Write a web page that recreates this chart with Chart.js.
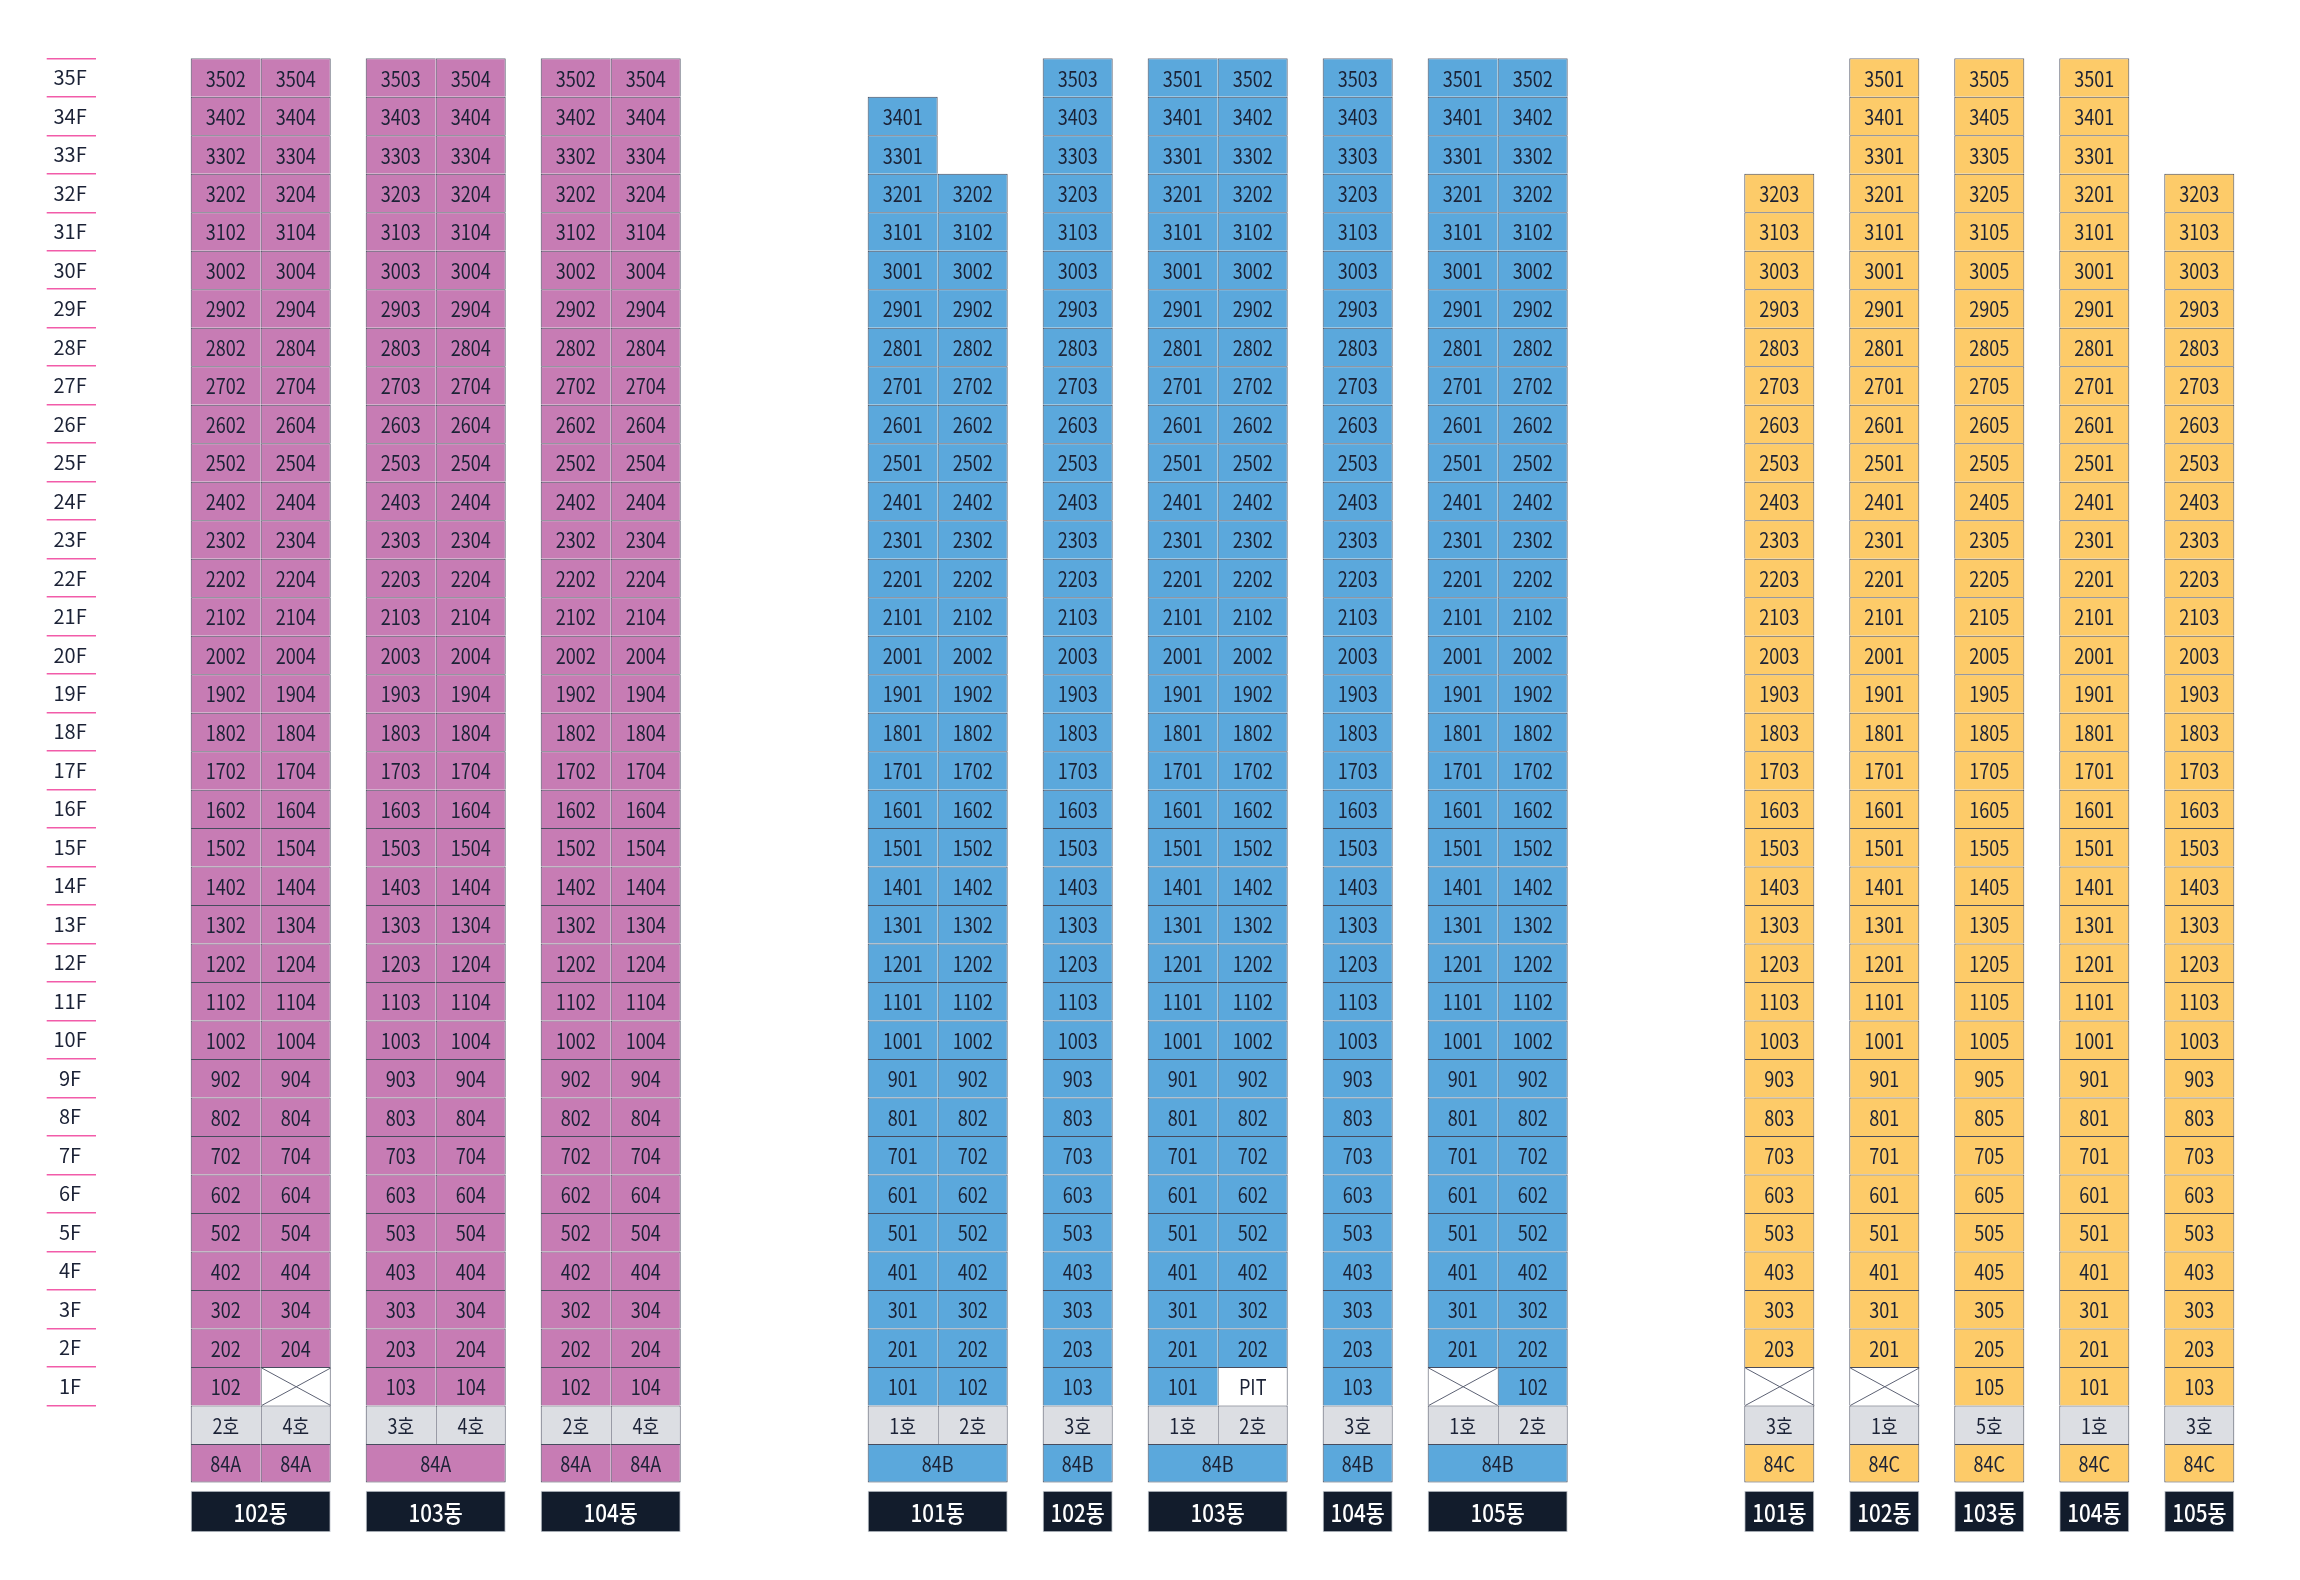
<!DOCTYPE html>
<html lang="ko">
<head>
<meta charset="utf-8">
<title>동호수 배치도</title>
<script src="https://cdn.jsdelivr.net/npm/chart.js@4"></script>
<style>
  html, body { margin: 0; padding: 0; background: #fff; }
  #wrap { width: 2300px; height: 1580px; }
</style>
</head>
<body>
<div id="wrap"><canvas id="chart"></canvas></div>
<script>
// floors, top to bottom
const floorLabels = ['35F', '34F', '33F', '32F', '31F', '30F', '29F', '28F', '27F', '26F',
  '25F', '24F', '23F', '22F', '21F', '20F', '19F', '18F', '17F', '16F', '15F', '14F',
  '13F', '12F', '11F', '10F', '9F', '8F', '7F', '6F', '5F', '4F', '3F', '2F', '1F'];
const floorNumbers = [35, 34, 33, 32, 31, 30, 29, 28, 27, 26, 25, 24, 23, 22, 21, 20, 19, 18,
  17, 16, 15, 14, 13, 12, 11, 10, 9, 8, 7, 6, 5, 4, 3, 2, 1];

const unitTypes = ['84A', '84B', '84C'];

// 84A
const buildingsA = ['102동', '103동', '104동'];
const linesA = [[2, 4], [3, 4], [2, 4]];
const topFloorsA = [[35, 35], [35, 35], [35, 35]];
const groundA = [['', 'X'], ['', ''], ['', '']];
const mergedTypeA = [false, true, false];

// 84B
const buildingsB = ['101동', '102동', '103동', '104동', '105동'];
const linesB = [[1, 2], [3], [1, 2], [3], [1, 2]];
const topFloorsB = [[34, 32], [35], [35, 35], [35], [35, 35]];
const groundB = [['', ''], [''], ['', 'PIT'], [''], ['X', '']];
const mergedTypeB = [true, true, true, true, true];

// 84C
const buildingsC = ['101동', '102동', '103동', '104동', '105동'];
const linesC = [[3], [1], [5], [1], [3]];
const topFloorsC = [[32], [35], [35], [35], [32]];
const groundC = [['X'], ['X'], [''], [''], ['']];
const mergedTypeC = [true, true, true, true, true];

// layout (in cell widths / row heights)
const GROUP_GAP = [0, 2.671, 2.523];
const BUILDING_GAP = 0.5;
const HO_ROW = floorLabels.length;
const TYPE_ROW = HO_ROW + 1;
const DONG_ROW = TYPE_ROW + 1.255;

const GROUP_COLORS = ['#c77cb4', '#5ba8dc', '#fdcb69'];
const BORDER = '#474c5e';
const TEXT = '#1b2236';
const FONT = '"Noto Sans CJK KR", "Noto Sans", sans-serif';

const groups = [
  { type: unitTypes[0], names: buildingsA, lines: linesA, tops: topFloorsA, ground: groundA, merged: mergedTypeA },
  { type: unitTypes[1], names: buildingsB, lines: linesB, tops: topFloorsB, ground: groundB, merged: mergedTypeB },
  { type: unitTypes[2], names: buildingsC, lines: linesC, tops: topFloorsC, ground: groundC, merged: mergedTypeC }
];

const unitCells = [[], [], []];
const hoCells = [];
const specialCells = [];
const dongCells = [];

let cursor = 0;
groups.forEach((g, gi) => {
  cursor += GROUP_GAP[gi];
  g.names.forEach((name, bi) => {
    if (bi > 0) cursor += BUILDING_GAP;
    const left = cursor;
    const lines = g.lines[bi];
    lines.forEach((line, li) => {
      const x0 = left + li, x1 = x0 + 1;
      const isLast = li === lines.length - 1;
      const top = g.tops[bi][li];
      const nextTop = isLast ? 0 : g.tops[bi][li + 1];
      floorNumbers.forEach((f, row) => {
        if (f > top) return;
        const right = isLast || f > nextTop;
        const special = f === 1 ? g.ground[bi][li] : '';
        if (special) {
          specialCells.push({ x: [x0, x1], y: row, label: special === 'X' ? '' : special, cross: special === 'X', right });
        } else {
          unitCells[gi].push({ x: [x0, x1], y: row, label: String(f * 100 + line), right });
        }
      });
      hoCells.push({ x: [x0, x1], y: HO_ROW, label: line + '호', right: isLast });
      if (!g.merged[bi]) {
        unitCells[gi].push({ x: [x0, x1], y: TYPE_ROW, label: g.type, right: isLast, bottom: true });
      }
    });
    if (g.merged[bi]) {
      unitCells[gi].push({ x: [left, left + lines.length], y: TYPE_ROW, label: g.type, right: true, bottom: true });
    }
    dongCells.push({ x: [left, left + lines.length], y: DONG_ROW, label: name });
    cursor += lines.length;
  });
});

const cellBorder = c => {
  const r = c.raw || {};
  return { top: 1, left: 1, right: r.right ? 1 : 0, bottom: r.bottom ? 1 : 0 };
};

// draws the unit numbers and the crossed-out cells
const cellText = {
  id: 'cellText',
  afterDatasetsDraw(chart) {
    const ctx = chart.ctx;
    chart.data.datasets.forEach((ds, di) => {
      const meta = chart.getDatasetMeta(di);
      meta.data.forEach((el, i) => {
        const item = ds.data[i];
        const p = el.getProps(['x', 'y', 'base', 'height'], true);
        const l = Math.min(p.x, p.base), r = Math.max(p.x, p.base);
        const t = p.y - p.height / 2, b = p.y + p.height / 2;
        if (item.cross) {
          ctx.save();
          ctx.strokeStyle = '#5d6274';
          ctx.lineWidth = 1;
          ctx.beginPath();
          ctx.moveTo(l + 1, t + 1); ctx.lineTo(r, b);
          ctx.moveTo(l + 1, b); ctx.lineTo(r, t + 1);
          ctx.stroke();
          ctx.restore();
        }
        if (!item.label) return;
        ctx.save();
        ctx.translate((l + r) / 2, p.y + 1);
        ctx.scale(ds.textScale || 0.86, 1);
        ctx.font = ds.textFont || '400 21px ' + FONT;
        ctx.fillStyle = ds.textColor || TEXT;
        ctx.textAlign = 'center';
        ctx.textBaseline = 'middle';
        ctx.fillText(item.label, 0, 0);
        ctx.restore();
      });
    });
  }
};

const datasets = unitCells.map((cells, gi) => ({
  label: unitTypes[gi],
  data: cells,
  backgroundColor: GROUP_COLORS[gi]
}));
datasets.push({ label: '호', data: hoCells, backgroundColor: '#dcdee3' });
datasets.push({ label: 'special', data: specialCells, backgroundColor: '#ffffff' });
datasets.push({
  label: '동',
  data: dongCells,
  backgroundColor: '#121c2c',
  borderColor: '#c6cbd2',
  borderWidth: 1,
  barThickness: 41.6,
  textColor: '#ffffff',
  textFont: '500 24px ' + FONT,
  textScale: 0.86
});

new Chart(document.getElementById('chart'), {
  type: 'bar',
  data: { datasets },
  options: {
    indexAxis: 'y',
    responsive: true,
    maintainAspectRatio: false,
    animation: false,
    events: [],
    layout: { padding: { top: 58.3, bottom: 47.5, left: 0, right: 9.29 } },
    datasets: {
      bar: {
        grouped: false,
        barPercentage: 1,
        categoryPercentage: 1,
        borderSkipped: false,
        inflateAmount: 0,
        borderColor: BORDER,
        borderWidth: cellBorder
      }
    },
    plugins: {
      legend: { display: false },
      tooltip: { enabled: false }
    },
    scales: {
      x: { type: 'linear', min: -1.353, max: 30, offset: false, display: false },
      y: {
        type: 'linear',
        reverse: true,
        offset: false,
        min: -0.5,
        max: 37.8,
        afterBuildTicks: s => { s.ticks = floorLabels.map((_, i) => ({ value: i })); },
        afterFit: s => {
          s.width = 96;
          s.paddingTop = 0;
          s.paddingBottom = 0;
        },
        border: { display: false },
        grid: {
          offset: true,
          drawOnChartArea: false,
          drawTicks: true,
          tickLength: 49.3,
          color: '#f25ca9',
          lineWidth: 1.5
        },
        ticks: {
          autoSkip: false,
          crossAlign: 'center',
          padding: -40,
          color: TEXT,
          font: { family: FONT, size: 20 },
          callback: v => floorLabels[v]
        }
      }
    }
  },
  plugins: [cellText]
});
</script>
</body>
</html>
